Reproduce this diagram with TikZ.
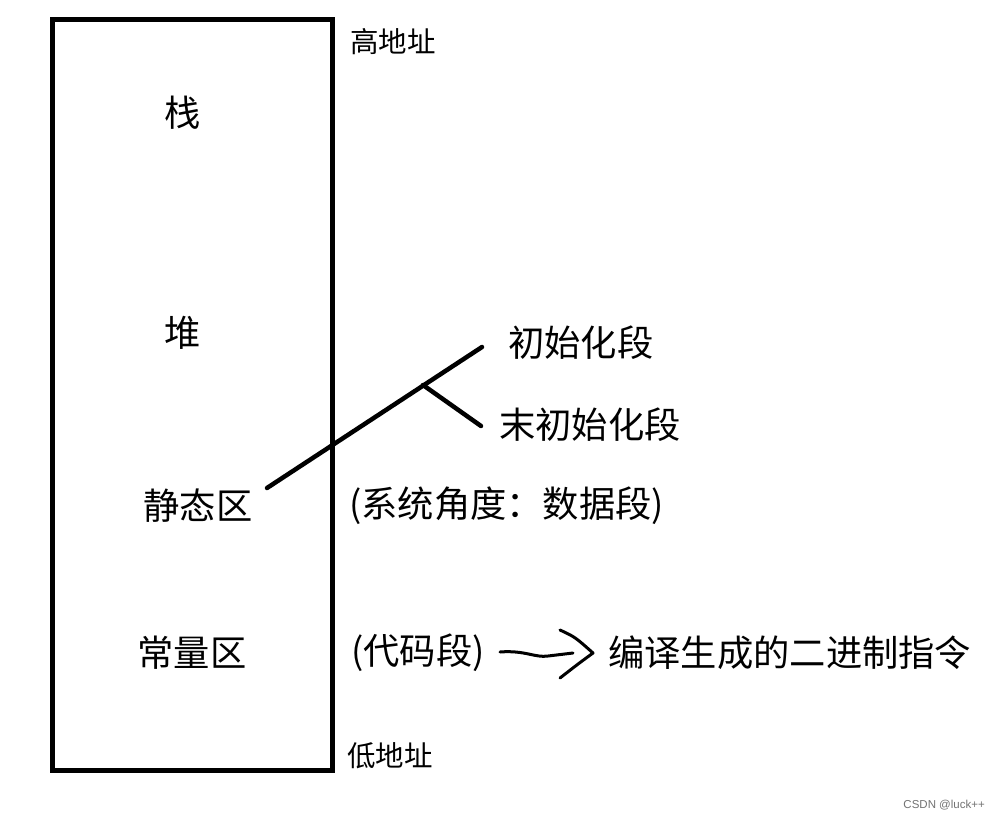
\documentclass[tikz,border=0pt]{standalone}
\usepackage{fontspec}
\newfontfamily\cjk{Noto Sans CJK SC}
\newfontfamily\wm{Liberation Sans}
\begin{document}
\begin{tikzpicture}[x=1pt,y=-1pt,
  big/.style={font=\cjk\fontsize{36.3}{42}\selectfont, inner sep=0pt},
  small/.style={font=\cjk\fontsize{28.5}{33}\selectfont, inner sep=0pt},
  mid line/.style={line width=4.5pt, line cap=round}]
\useasboundingbox (0,0) rectangle (1000,819);
\fill[white] (0,0) rectangle (1000,819);
% memory box
\node[draw, line width=5pt, minimum width=280pt, minimum height=751pt, inner sep=0pt] (mem) at (192.5,394.5) {};
\node[big] (stack) at (183,113) {栈};
\node[big] (heap) at (183,333) {堆};
\node[big] (static) at (198,506) {静态区};
\node[big] (const) at (192,653) {常量区};
\node[small, anchor=west] (high) at (350,42) {高地址};
\node[small, anchor=west] (low) at (347,756) {低地址};
\node[big, anchor=west] (init) at (508,343) {初始化段};
\node[big, anchor=west] (uninit) at (499,425) {末初始化段};
\node[big, anchor=west] (data) at (349,506) {(系统角度：数据段)};
\node[big, anchor=west] (code) at (351,653) {(代码段)};
\node[big, anchor=west] (bin) at (608,653) {编译生成的二进制指令};
\node[font=\wm\fontsize{11.5}{13}\selectfont, text=black!55, anchor=east, inner sep=0pt] (mark) at (985,805) {CSDN @luck++};
% lines
\coordinate (d1) at (267,488);
\coordinate (d2) at (482,347);
\coordinate (b0) at (423,385);
\coordinate (b1) at (481,426);
\draw[mid line] (d1) -- (d2);
\draw[mid line] (b0) -- (b1);
% hand-drawn arrow
\coordinate (a0) at (500,652);
\coordinate (a1) at (573,653);
\coordinate (c1) at (560,630);
\coordinate (c2) at (593,653);
\coordinate (c3) at (560,678);
\draw[line width=3pt, line cap=round] (a0) .. controls (525,650) and (535,658) .. (548,656) .. controls (560,655) .. (a1);
\draw[line width=3pt, line cap=round, line join=round] (c1) .. controls (575,637) .. (c2) .. controls (578,664) .. (c3);
\end{tikzpicture}
\end{document}
